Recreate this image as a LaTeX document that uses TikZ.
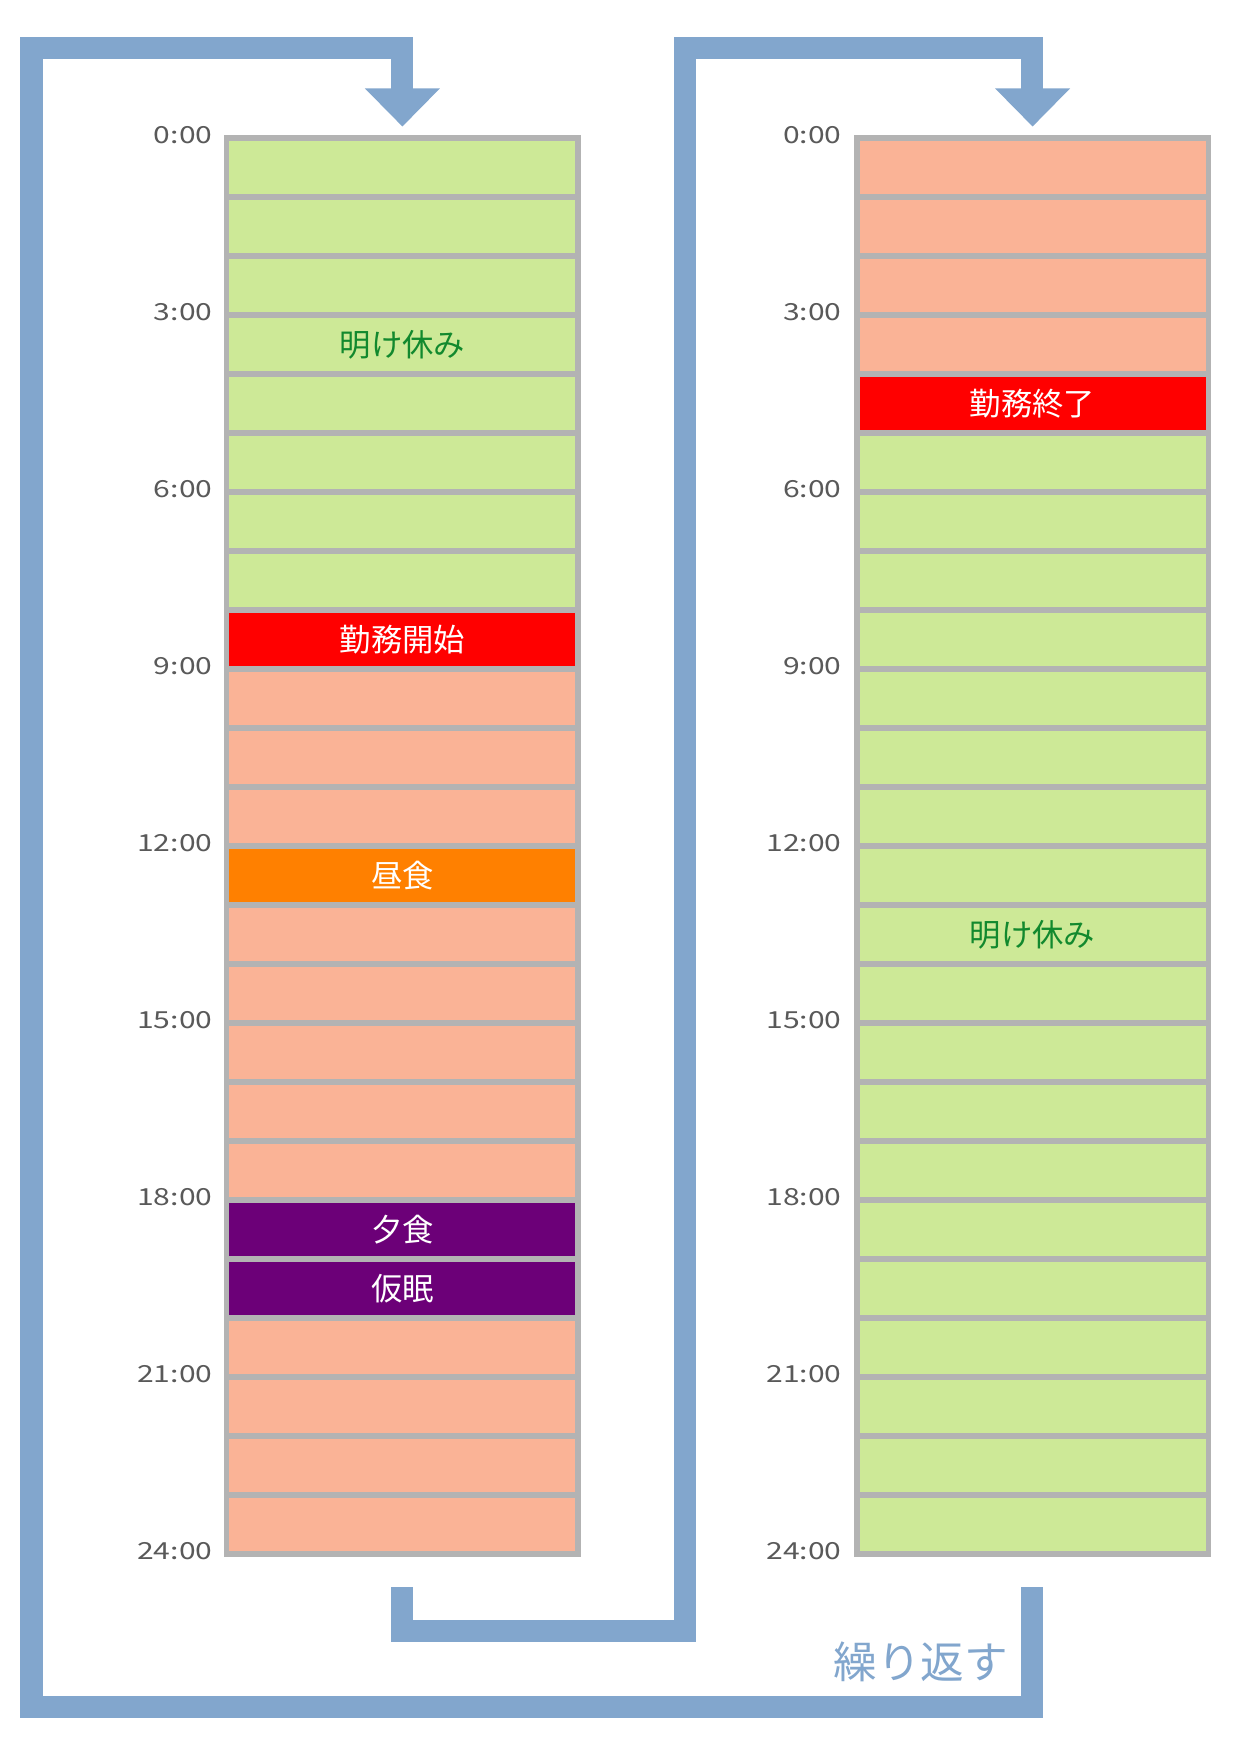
\documentclass[tikz,border=0pt]{standalone}
\usepackage{fontspec}
\setmainfont{Noto Sans CJK JP}
\usetikzlibrary{calc}
\definecolor{restgreen}{HTML}{CDE997}
\definecolor{worksalmon}{HTML}{FAB396}
\definecolor{lunchorange}{HTML}{FF8000}
\definecolor{nightpurple}{HTML}{6C0078}
\definecolor{gridgray}{HTML}{B3B3B3}
\definecolor{pipeblue}{HTML}{82A6CD}
\definecolor{restgreentext}{HTML}{12892E}
\definecolor{timegray}{HTML}{595959}
\def\rowh{52.7}
\def\rowtop{123.5}
\def\timetext#1{\scalebox{1.28}[1]{#1:00}}

\begin{document}
\begin{tikzpicture}[x=1pt, y=-1pt,
	cell/.style={draw=gridgray, line width=5pt},
	celltext/.style={font=\fontsize{28}{30}\selectfont, inner sep=0pt},
	timelabel/.style={font=\fontsize{21}{23}\selectfont, text=timegray, anchor=east, inner sep=0pt},
	pipe/.style={draw=pipeblue, line width=20pt, line cap=butt, line join=miter}]
			%%%%% FRAME %%%%%
			\useasboundingbox (0, 0) rectangle (1108, 1567);
			
			%%%%% DAY 1 %%%%%
			\foreach \i/\c in {0/restgreen,1/restgreen,2/restgreen,3/restgreen,4/restgreen,5/restgreen,6/restgreen,7/restgreen,
				8/red,9/worksalmon,10/worksalmon,11/worksalmon,12/lunchorange,13/worksalmon,14/worksalmon,15/worksalmon,
				16/worksalmon,17/worksalmon,18/nightpurple,19/nightpurple,20/worksalmon,21/worksalmon,22/worksalmon,23/worksalmon}
				\draw[cell, fill=\c] (202.5, {\rowtop+\rowh*\i}) rectangle (516.5, {\rowtop+\rowh*(\i+1)});
			
			\node[celltext, text=restgreentext] (restA) at (359.5, {\rowtop+\rowh*3.5}) {明け休み};
			\node[celltext, text=white] (startA) at (359.5, {\rowtop+\rowh*8.5}) {勤務開始};
			\node[celltext, text=white] (lunchA) at (359.5, {\rowtop+\rowh*12.5}) {昼食};
			\node[celltext, text=white] (dinnerA) at (359.5, {\rowtop+\rowh*18.5}) {夕食};
			\node[celltext, text=white] (napA) at (359.5, {\rowtop+\rowh*19.5}) {仮眠};
			
			\foreach \h in {0,3,...,24}
				\node[timelabel] (timeA\h) at (190, {\rowtop+\rowh*\h-3}) {\timetext{\h}};
			
			%%%%% DAY 2 %%%%%
			\foreach \i/\c in {0/worksalmon,1/worksalmon,2/worksalmon,3/worksalmon,4/red}
				\draw[cell, fill=\c] (765.5, {\rowtop+\rowh*\i}) rectangle (1079.5, {\rowtop+\rowh*(\i+1)});
			\foreach \i in {5,...,23}
				\draw[cell, fill=restgreen] (765.5, {\rowtop+\rowh*\i}) rectangle (1079.5, {\rowtop+\rowh*(\i+1)});
			
			\node[celltext, text=white] (endB) at (922.5, {\rowtop+\rowh*4.5}) {勤務終了};
			\node[celltext, text=restgreentext] (restB) at (922.5, {\rowtop+\rowh*13.5}) {明け休み};
			
			\foreach \h in {0,3,...,24}
				\node[timelabel] (timeB\h) at (752, {\rowtop+\rowh*\h-3}) {\timetext{\h}};
			
			%%%%% LOOP %%%%%
			\draw[pipe] (922, 1418) -- (922, 1525) -- (28, 1525) -- (28, 43) -- (359, 43) -- (359, 80);
			\fill[pipeblue] (326, 79) -- (393, 79) -- (359.5, 113) -- cycle;
			
			\draw[pipe] (359, 1418) -- (359, 1457) -- (612, 1457) -- (612, 43) -- (922, 43) -- (922, 80);
			\fill[pipeblue] (889, 79) -- (956, 79) -- (922.5, 113) -- cycle;
			
			\node[font=\fontsize{39}{41}\selectfont, text=pipeblue, anchor=east, inner sep=0pt] (repeat) at (901, 1485) {繰り返す};
			
			%%%%% END %%%%%
\end{tikzpicture}
\end{document}
